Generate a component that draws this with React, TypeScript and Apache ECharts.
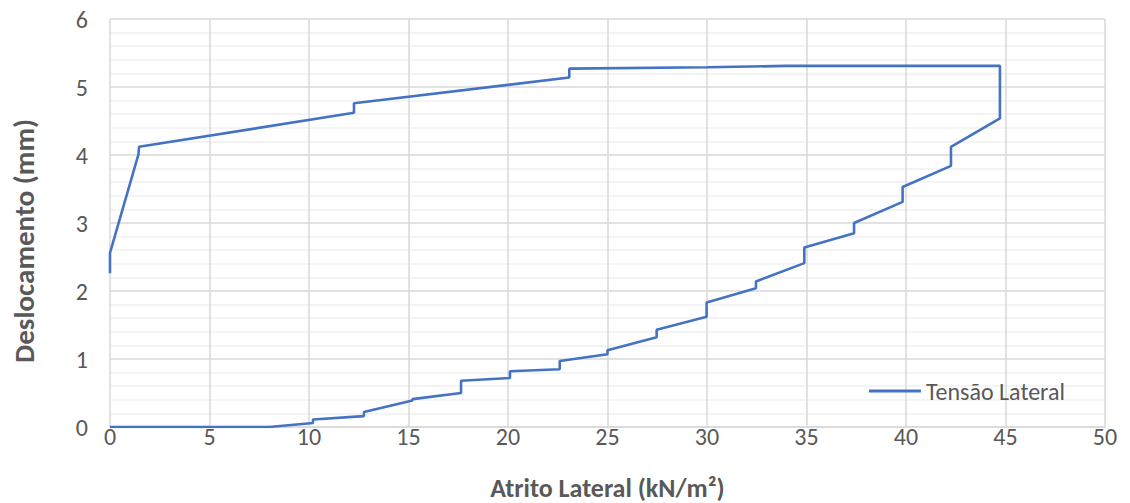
import React, { useEffect, useRef } from "react";
import * as echarts from "echarts";

// Lateral friction (kN/m²) vs displacement (mm): loading, peak creep and unloading
const atritoLateral: number[] = [
  0, 8.0, 10.2, 10.2, 12.76, 12.76, 15.2, 15.2, 17.64, 17.64, 20.1, 20.1,
  22.6, 22.6, 25.0, 25.0, 27.47, 27.47, 29.98, 29.98, 32.46, 32.46, 34.89,
  34.89, 37.39, 37.39, 39.83, 39.83, 42.26, 42.26, 44.72, 44.72, 34.0, 30.0,
  23.08, 23.08, 12.26, 12.26, 1.46, 1.43, 0, 0,
];
const deslocamento: number[] = [
  0, 0, 0.06, 0.11, 0.16, 0.22, 0.39, 0.41, 0.5, 0.68, 0.72, 0.82,
  0.85, 0.97, 1.07, 1.13, 1.32, 1.43, 1.62, 1.83, 2.04, 2.14, 2.41,
  2.64, 2.85, 3.0, 3.31, 3.53, 3.84, 4.12, 4.54, 5.31, 5.31, 5.29,
  5.27, 5.14, 4.76, 4.62, 4.12, 4.01, 2.56, 2.26,
];

const xTicks = { min: 0, max: 50, interval: 5 };
const yTicks = { min: 0, max: 6, interval: 1 };

const seriesName = "Tensão Lateral";
const xTitle = "Atrito Lateral (kN/m²)";
const yTitle = "Deslocamento (mm)";

const FONT = "Carlito, 'Liberation Sans Narrow', 'Open Sans', sans-serif";
const GREY = "#595959";
const BLUE = "#4472C4";

export default function App() {
  const ref = useRef<HTMLDivElement>(null);

  useEffect(() => {
    if (!ref.current) return;
    const chart = echarts.init(ref.current, undefined, { renderer: "svg" });
    const points = atritoLateral.map((x, i) => [x, deslocamento[i]]);

    chart.setOption({
      animation: false,
      backgroundColor: "#ffffff",
      textStyle: { fontFamily: FONT },
      grid: {
        left: 110,
        right: 25,
        top: 19,
        bottom: 76,
        containLabel: false,
        outerBoundsMode: "none",
      },
      legend: {
        right: 60,
        top: 374,
        itemWidth: 52,
        itemHeight: 3,
        itemGap: 6,
        icon: "rect",
        textStyle: { color: GREY, fontSize: 24, fontFamily: FONT },
        data: [{ name: seriesName, icon: "rect" }],
      },
      // rotated y-axis title, sitting a little below the plot's middle
      graphic: [
        {
          type: "text",
          x: 24,
          y: 241,
          rotation: Math.PI / 2,
          style: {
            text: yTitle,
            align: "center",
            verticalAlign: "middle",
            fill: GREY,
            fontSize: 29,
            fontWeight: "bold",
            fontFamily: FONT,
          },
        },
      ],
      xAxis: {
        type: "value",
        ...xTicks,
        name: xTitle,
        nameLocation: "middle",
        nameGap: 48,
        nameTextStyle: { color: GREY, fontSize: 26, fontWeight: "bold", fontFamily: FONT },
        axisLine: { show: true, lineStyle: { color: "#d9d9d9", width: 1.5 } },
        axisTick: { show: false },
        axisLabel: { color: GREY, fontSize: 24, margin: -3, fontFamily: FONT },
        splitLine: { show: true, lineStyle: { color: "#d9d9d9", width: 1.5 } },
      },
      yAxis: {
        type: "value",
        ...yTicks,
        axisLine: { show: false },
        axisTick: { show: false },
        axisLabel: { color: GREY, fontSize: 24, margin: 22, fontFamily: FONT },
        splitLine: { show: true, lineStyle: { color: "#d9d9d9", width: 1.5 } },
        minorTick: { show: false, splitNumber: 5 },
        minorSplitLine: { show: true, lineStyle: { color: "#f0f0f0", width: 1.5 } },
      },
      series: [
        {
          name: seriesName,
          type: "line",
          data: points,
          showSymbol: false,
          symbol: "none",
          lineStyle: { color: BLUE, width: 2.6 },
          itemStyle: { color: BLUE },
        },
      ],
    });

    return () => chart.dispose();
  }, []);

  return (
    <div
      ref={ref}
      style={{ position: "fixed", left: 0, top: 0, width: 1130, height: 503 }}
    />
  );
}
